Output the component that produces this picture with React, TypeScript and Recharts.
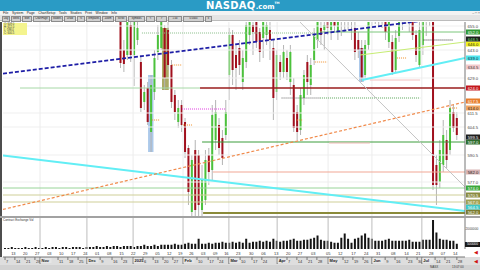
import React from "react";
import {
  ComposedChart,
  Bar,
  XAxis,
  YAxis,
  ReferenceLine,
  ReferenceArea,
} from "recharts";

// one slot per bar on the time axis; candles start at slot 34
const SLOTS = 136;
const FIRST_CANDLE = 34;

// [open, high, low, close]
const candles: number[][] = [
  [660, 663, 634, 636.5],
  [643, 648, 632, 636],
  [640.5, 662, 638, 659],
  [655.5, 658, 637, 640.5],
  [640.5, 660.5, 625, 657],
  [648, 658, 645.5, 654],
  [637, 640.5, 612, 614],
  [617, 625.5, 613, 622],
  [624, 627, 605.5, 607],
  [602, 630.5, 592, 625.5],
  [622, 643, 618, 639],
  [642, 655.5, 638, 650.5],
  [644, 660.5, 643, 657],
  [654, 655.5, 623, 629],
  [653, 657, 633, 635.5],
  [635.5, 638, 614, 617],
  [620.5, 623, 608, 612],
  [607, 618, 604, 614],
  [615.5, 618, 602, 605.5],
  [607, 609, 589, 592],
  [594, 595.5, 565.5, 572],
  [562, 590.5, 560, 588],
  [593, 598, 560, 563],
  [590.5, 593, 560, 565.5],
  [563, 585.5, 560, 578],
  [568, 593, 565.5, 588],
  [590.5, 594, 575.5, 582],
  [583, 615.5, 578, 610.5],
  [598, 618, 593, 612],
  [605.5, 609, 590.5, 594],
  [599, 603, 585.5, 589],
  [600.5, 618, 598, 612],
  [630.5, 654, 618, 650.5],
  [650.5, 653, 625.5, 633],
  [640.5, 645.5, 623, 634],
  [644, 648, 630.5, 635.5],
  [627, 643, 623, 639],
  [637, 658, 634, 655.5],
  [650.5, 659, 645.5, 657],
  [655.5, 659, 640.5, 652],
  [657, 659, 644, 647],
  [652, 654, 637, 642],
  [649, 659, 639, 657],
  [650.5, 658, 645.5, 655.5],
  [653, 657, 638, 648],
  [644, 648, 608, 619],
  [622, 643, 618, 640.5],
  [637, 640.5, 628, 632],
  [632, 645.5, 629, 642],
  [639, 643, 628, 632],
  [627, 645.5, 620.5, 642],
  [625.5, 629, 602, 604],
  [612, 615.5, 598, 602],
  [603, 624, 600.5, 620.5],
  [619, 633, 615.5, 630.5],
  [637, 640.5, 620.5, 627],
  [625.5, 639, 620.5, 635.5],
  [638, 654, 635.5, 650.5],
  [648, 659, 644, 657],
  [654, 658, 645.5, 650.5],
  [653, 659, 643, 655.5],
  [657, 659, 650.5, 654],
  [653, 659, 648, 657],
  [657, 659, 652, 655],
  [652, 659, 648, 657],
  [660, 664, 650, 658],
  [658, 663, 652, 661],
  [662, 665, 653, 659],
  [659, 663, 648, 657.5],
  [654, 657, 638, 642],
  [648, 652, 639, 643],
  [644, 648, 627, 629],
  [630.5, 648, 628, 645.5],
  [645.5, 659, 643, 657],
  [660, 665, 654, 662],
  [662, 666, 656, 664],
  [663, 667, 655, 660],
  [660, 664, 654, 662],
  [661, 664, 648, 652],
  [647, 659, 644, 657],
  [647, 650.5, 630.5, 632],
  [633, 653, 631.5, 649],
  [650, 661, 647, 658],
  [660, 664, 653, 662],
  [662, 666, 656, 664],
  [663, 666, 652, 659],
  [659, 662, 648, 650.5],
  [650.5, 653, 637, 640.5],
  [635.5, 658, 634, 653],
  [645.5, 659, 640.5, 657],
  [658, 663, 650, 661],
  [661, 665, 655, 662],
  [662, 665, 573, 575.5],
  [585.5, 590.5, 565.5, 575.5],
  [577, 598, 574, 593],
  [585.5, 608, 582, 600.5],
  [598, 603, 584, 588],
  [593, 618, 590.5, 614],
  [612, 615.5, 602, 604],
  [609, 612, 598, 600.5],
];

// volume, thousands of contracts, one per slot
const volumes: (number | null)[] = [
  100, 100, 200, 100, 100, 100, 200, 100, 100, 200,
  100, 100, 200, 100, 200, 200, 100, 200, 200, 100,
  200, 200, 200, 100, 200, 200, 200, 300, 200, 200,
  300, 200, 300, 300, 200, 300, 300, 300, 200, 300,
  300, 400, 300, 300, 400, 300, 400, 400, 400, 400,
  500, 400, 400, 500, 600, 500, 500, 1000, 500, 500,
  600, 500, 600, 600, 700, 600, 600, 700, 600, 700,
  600, 1000, 600, 700, 700, 800, 700, 800, 700, 1000,
  800, 700, 800, 800, 900, 1000, 800, 800, 900, 900,
  1000, 1100, 1300, 900, 800, 800, 700, 600, 600, 1100,
  1500, 1000, 600, 1000, 1100, 1300, 1500, 1100, 1000, 800,
  800, 800, 900, 1000, 800, 800, 800, 800, 800, 900,
  700, 700, 700, 900, 900, 900, 2800, 1600, 1000, 900,
  900, 800, 800, 500, null, null,
];

// month boundaries and labels
const monthSlots = [10.4, 24.2, 37.8, 52.5, 66, 80.2, 95.2, 108.1, 122.8];
const monthNames = ["Nov", "Dec", "2025", "Feb", "Mar", "Apr", "May", "Jun", "Jul"];

const weekSlots = [
  0.1, 3, 6, 8.9, 15.7, 18.6, 21.6, 28.1, 31.6, 34.5, 40.7, 43.7, 46.6, 49.5,
  56.6, 59.9, 62.8, 69.3, 72.8, 75.7, 83.1, 86, 89, 91.9, 99.6, 102.5, 105.5,
  112, 114.9, 118.4, 121.4, 126.7, 129.6, 133.1,
];
const weekDays = [
  "7", "14", "21", "28", "11", "18", "25", "9", "16", "23", "6", "13", "20", "27",
  "10", "17", "24", "10", "17", "24", "7", "14", "21", "28", "12", "19", "26",
  "9", "16", "23", "30", "14", "21", "28",
];

const row2Slots = [
  1.6, 5.1, 8.6, 12.2, 15.7, 19.2, 22.8, 26.3, 29.8, 33.4, 36.9, 40.4, 44, 47.5,
  50.7, 54, 57.5, 61, 64.3, 67.8, 71.6, 75.2, 79, 82.5, 86, 89.9, 94.3, 97.8,
  101.7, 105.5, 109, 113.4, 117.3, 120.8, 124.6, 128.1, 131.7,
];
const row2Days = [
  "13", "20", "27", "03", "10", "17", "24", "01", "08", "15", "22", "29", "05", "12",
  "19", "26", "03", "09", "16", "23", "30", "06", "13", "20", "27", "03", "05", "12",
  "17", "24", "31", "08", "14", "21", "28", "07", "14",
];

// price scale labels and the coloured level tags on the right axis
const priceTicks = [577, 590.5, 604.5, 611.5, 629, 643, 655];
const tagPrices = [652, 648.5, 646, 639, 634.5, 624, 617.5, 614, 599.5, 597, 582, 574, 570.5, 567, 564.5, 562];
const tagStyle: Record<number, [string, string]> = {
  652: ["#2f9a35", "#fff"],
  648.5: ["#1d1d1d", "#7fe07f"],
  646: ["#f2f21e", "#222"],
  639: ["#4fe6ee", "#123"],
  634.5: ["#f4c9cc", "#333"],
  624: ["#c4161c", "#fff"],
  617.5: ["#e77c2c", "#fff"],
  614: ["#f3a765", "#222"],
  599.5: ["#1e1e1e", "#fff"],
  597: ["#2d6c2d", "#fff"],
  582: ["#d9b5b5", "#222"],
  574: ["#3aa83a", "#fff"],
  570.5: ["#8a8a40", "#fff"],
  567: ["#a0a050", "#fff"],
  564.5: ["#3cc7c7", "#fff"],
  562: ["#7b7b30", "#fff"],
};

// short dotted orange markers: [fromSlot, toSlot, price]
const orangeMarks = [
  [49.3, 52.2, 635.5],
  [43.4, 45.7, 608],
  [52.5, 55.4, 605.5],
  [86, 87.8, 608],
  [91.3, 94.9, 637],
  [115.5, 118.4, 639],
  [131.1, 133.4, 614],
];

const rows = volumes.map((v, i) => {
  const c = candles[i - FIRST_CANDLE];
  return c
    ? { i, v, o: c[0], h: c[1], l: c[2], c: c[3], range: [c[2], c[1]] }
    : { i, v, range: null };
});

const last = candles[candles.length - 1];
const FONT = "'Liberation Sans', Arial, sans-serif";
const XDOM: [number, number] = [-0.5, SLOTS - 0.5];

const Candle = (props: any) => {
  const { x, y, width, height, payload } = props;
  if (!payload || payload.o == null) return null;
  const { o, h, l, c } = payload;
  const top = Math.min(y, y + height);
  const bot = Math.max(y, y + height);
  const span = h - l || 1;
  const py = (p: number) => top + ((h - p) / span) * (bot - top);
  const cx = x + width / 2;
  const up = c >= o;
  const bt = py(Math.max(o, c));
  const bb = py(Math.min(o, c));
  return (
    <g>
      <line x1={cx} x2={cx} y1={top} y2={bot} stroke="#b4b4b4" strokeWidth={1} />
      <rect
        x={cx - 1}
        y={bt}
        width={2}
        height={Math.max(1, bb - bt)}
        fill={up ? "#4cc23c" : "#a1101d"}
      />
    </g>
  );
};

const PriceTick = (props: any) => {
  const { x, y, payload } = props;
  const v = payload.value as number;
  const st = tagStyle[v];
  if (st) {
    return (
      <g>
        <rect x={x} y={y - 2.5} width={14} height={5} fill={st[0]} />
        <text x={x + 7} y={y + 1.6} fontSize={4.2} textAnchor="middle" fill={st[1]} fontFamily={FONT}>
          {v.toFixed(1)}
        </text>
      </g>
    );
  }
  return (
    <text x={x + 1.5} y={y + 1.6} fontSize={4.2} fill="#444" fontFamily={FONT}>
      {v.toFixed(1)}
    </text>
  );
};

const WeekTick = (props: any) => {
  const { x, y, payload } = props;
  const mi = monthSlots.indexOf(payload.value);
  if (mi >= 0) {
    return (
      <g>
        <line x1={x} x2={x} y1={y} y2={y + 7} stroke="#777" />
        <rect x={x + 0.5} y={y + 1} width={11} height={5} fill="#e6e6e6" />
        <text x={x + 1.5} y={y + 5} fontSize={4} fontWeight={700} fill="#222" fontFamily={FONT}>
          {monthNames[mi]}
        </text>
      </g>
    );
  }
  const wi = weekSlots.indexOf(payload.value);
  return (
    <g>
      <line x1={x} x2={x} y1={y} y2={y + 3} stroke="#777" />
      <text x={x + 1} y={y + 5.5} fontSize={4} fill="#333" fontFamily={FONT}>
        {weekDays[wi]}
      </text>
    </g>
  );
};

const Row2Tick = (props: any) => {
  const { x, y, payload } = props;
  const k = row2Slots.indexOf(payload.value);
  return (
    <g>
      <line x1={x - 1} x2={x - 1} y1={y + 1} y2={y + 7} stroke="#fff" />
      <text x={x + 1} y={y + 5.5} fontSize={4} fill="#333" fontFamily={FONT}>
        {row2Days[k]}
      </text>
    </g>
  );
};

const VolTick = (props: any) => {
  const { x, y, payload } = props;
  return (
    <text x={x + 0.5} y={y + 1.3} fontSize={3.3} fill="#444" fontFamily={FONT}>
      {`${payload.value}000`}
    </text>
  );
};

const menuItems = ["File", "System", "Page", "ChartSetup", "Tools", "Studies", "Print", "Window", "Info"];
const toolButtons = [
  ["Day", 6], ["Week", 8], ["Mon", 8], ["ChartPage", 15], ["Studies", 10], ["Draw", 10],
  ["%", 6], ["Templates", 13], ["Zoom", 10], ["Scroll", 10], ["Symbols", 15], ["<", 7],
  [">", 9], ["1.00", 12], ["0.0000", 19], ["x", 5],
];

const PriceChart = () => (
  <ComposedChart width={480} height={194} data={rows} margin={{ top: 0, right: 0, left: 3, bottom: 0 }}>
    <XAxis dataKey="i" type="number" domain={XDOM} hide allowDataOverflow />
    <YAxis
      orientation="right"
      width={15}
      domain={[560, 657]}
      allowDataOverflow
      ticks={[...priceTicks, ...tagPrices].sort((a, b) => a - b)}
      interval={0}
      tick={<PriceTick />}
      tickLine={false}
      tickSize={0}
      tickMargin={1}
      axisLine={{ stroke: "#777" }}
    />
    {priceTicks.map((p) => (
      <ReferenceLine key={"g" + p} y={p} stroke="#efefef" />
    ))}
    {monthSlots.map((s) => (
      <ReferenceLine key={"m" + s} x={s} stroke="#ececec" />
    ))}
    <ReferenceArea x1={42.2} x2={43.8} y1={592} y2={630.5} fill="#9ec0e6" fillOpacity={0.85} stroke="none" />
    <ReferenceArea x1={104.3} x2={105.7} y1={627} y2={644} fill="#9ec0e6" fillOpacity={0.85} stroke="none" />
    <ReferenceArea x1={46.3} x2={48.3} y1={623} y2={654} fill="#9c9c4a" fillOpacity={0.85} stroke="none" />
    <ReferenceArea x1={53.6} x2={55.4} y1={559} y2={594.5} fill="#9c9c4a" fillOpacity={0.85} stroke="none" />

    <ReferenceLine segment={[{ x: 4.5, y: 624 }, { x: 57.5, y: 624 }]} stroke="#a6d8a6" ifOverflow="hidden" />
    <ReferenceLine segment={[{ x: 57.5, y: 624 }, { x: 135.5, y: 624 }]} stroke="#9a1c1c" strokeWidth={1.4} ifOverflow="hidden" />
    <ReferenceLine segment={[{ x: 58.1, y: 597 }, { x: 135.5, y: 597 }]} stroke="#3d9d3d" ifOverflow="hidden" />
    <ReferenceLine segment={[{ x: 61.3, y: 582 }, { x: 135.5, y: 582 }]} stroke="#f1a795" ifOverflow="hidden" />
    <ReferenceLine segment={[{ x: -0.5, y: 574 }, { x: 135.5, y: 574 }]} stroke="#98d498" ifOverflow="hidden" />
    <ReferenceLine segment={[{ x: -0.5, y: 570.5 }, { x: 135.5, y: 570.5 }]} stroke="#cfcf98" ifOverflow="hidden" />
    <ReferenceLine segment={[{ x: -0.5, y: 567 }, { x: 135.5, y: 567 }]} stroke="#cfcf98" ifOverflow="hidden" />
    <ReferenceLine segment={[{ x: 58.4, y: 561.5 }, { x: 135.5, y: 561.5 }]} stroke="#8a8a3a" strokeWidth={2} ifOverflow="hidden" />
    <ReferenceLine segment={[{ x: 92.8, y: 652 }, { x: 135.5, y: 652 }]} stroke="#7cc77c" ifOverflow="hidden" />
    <ReferenceLine segment={[{ x: 40.4, y: 651.5 }, { x: 92.8, y: 651.5 }]} stroke="#8bbf8b" strokeDasharray="1 1" ifOverflow="hidden" />
    <ReferenceLine segment={[{ x: 81.5, y: 619 }, { x: 92.8, y: 619 }]} stroke="#666" strokeDasharray="1 1" ifOverflow="hidden" />
    <ReferenceLine segment={[{ x: 92.8, y: 619 }, { x: 122.3, y: 619 }]} stroke="#5aa65a" strokeDasharray="1 1" ifOverflow="hidden" />
    <ReferenceLine segment={[{ x: 123.3, y: 648 }, { x: 132.1, y: 648 }]} stroke="#333" strokeDasharray="1 1" ifOverflow="hidden" />
    <ReferenceLine segment={[{ x: 52.2, y: 613.5 }, { x: 64.9, y: 613.5 }]} stroke="#e040e0" strokeDasharray="1 1" ifOverflow="hidden" />
    <ReferenceLine segment={[{ x: 95.5, y: 596.5 }, { x: 107.5, y: 596.5 }]} stroke="#f2b8b8" ifOverflow="hidden" />
    <ReferenceLine segment={[{ x: 107.5, y: 628 }, { x: 122.3, y: 628 }]} stroke="#f2c0c0" ifOverflow="hidden" />
    {orangeMarks.map(([a, b, p]) => (
      <ReferenceLine
        key={"o" + a}
        segment={[{ x: a, y: p }, { x: b, y: p }]}
        stroke="#f0902a"
        strokeDasharray="1 1"
        ifOverflow="hidden"
      />
    ))}

    <ReferenceLine segment={[{ x: 86.9, y: 657 }, { x: 135.5, y: 574.5 }]} stroke="#c4c4c4" ifOverflow="hidden" />
    <ReferenceLine segment={[{ x: -0.5, y: 590.3 }, { x: 135.5, y: 562.5 }]} stroke="#62eef5" strokeWidth={2} ifOverflow="hidden" />
    <ReferenceLine segment={[{ x: 105.2, y: 628 }, { x: 135.5, y: 639 }]} stroke="#62eef5" strokeWidth={2} ifOverflow="hidden" />
    <ReferenceLine segment={[{ x: 104.6, y: 640.5 }, { x: 135.5, y: 647 }]} stroke="#c6ec74" strokeWidth={1.2} ifOverflow="hidden" />

    <Bar dataKey="range" barSize={2} shape={<Candle />} isAnimationActive={false} />

    <ReferenceLine segment={[{ x: -0.5, y: 563.3 }, { x: 135.5, y: 617 }]} stroke="#f08a4b" strokeWidth={1.2} strokeDasharray="3 2" ifOverflow="hidden" />
    <ReferenceLine segment={[{ x: -0.5, y: 631.2 }, { x: 135.5, y: 660.3 }]} stroke="#1e1ea6" strokeWidth={1.6} strokeDasharray="4 2" ifOverflow="hidden" />
  </ComposedChart>
);

const VolumeChart = () => (
  <ComposedChart width={480} height={48} data={rows} margin={{ top: 1, right: 0, left: 3, bottom: 0 }}>
    <XAxis
      xAxisId="w"
      dataKey="i"
      type="number"
      domain={XDOM}
      allowDataOverflow
      ticks={[...weekSlots, ...monthSlots].sort((a, b) => a - b)}
      interval={0}
      tick={<WeekTick />}
      tickLine={false}
      tickSize={0}
      tickMargin={0}
      height={8}
      axisLine={{ stroke: "#777" }}
    />
    <XAxis
      xAxisId="d"
      dataKey="i"
      type="number"
      domain={XDOM}
      allowDataOverflow
      ticks={row2Slots}
      interval={0}
      tick={<Row2Tick />}
      tickLine={false}
      tickSize={0}
      tickMargin={0}
      height={8}
      axisLine={false}
    />
    <YAxis
      orientation="right"
      width={15}
      domain={[0, 3000]}
      ticks={[2000]}
      tick={<VolTick />}
      tickLine={false}
      tickSize={0}
      tickMargin={0}
      axisLine={{ stroke: "#777" }}
    />
    {monthSlots.map((s) => (
      <ReferenceLine key={s} xAxisId="w" x={s} stroke="#bdbdbd" />
    ))}
    <Bar xAxisId="w" dataKey="v" barSize={2} fill="#141414" isAnimationActive={false} />
  </ComposedChart>
);

export default function App() {
  return (
    <div
      style={{
        position: "fixed",
        left: 0,
        top: 0,
        width: 480,
        height: 270,
        overflow: "hidden",
        background: "#fff",
        fontFamily: FONT,
      }}
    >
      {/* header */}
      <div style={{ position: "absolute", left: 0, top: 0, width: 480, height: 11, background: "#2a9bc5" }}>
        <div
          style={{
            position: "absolute",
            left: 206,
            top: 0,
            height: 11,
            display: "flex",
            alignItems: "baseline",
            color: "#fff",
            fontWeight: 700,
            fontFamily: "'DejaVu Sans', sans-serif",
            lineHeight: "11px",
          }}
        >
          <span style={{ fontSize: 10, letterSpacing: 0.3 }}>NASDAQ</span>
          <span style={{ fontSize: 7 }}>.com</span>
          <span style={{ fontSize: 3, alignSelf: "flex-start", lineHeight: "6px" }}>TM</span>
        </div>
      </div>
      {/* menu */}
      <div style={{ position: "absolute", left: 0, top: 11, width: 480, height: 4, background: "#f3f3f3", display: "flex", gap: 3.5, paddingLeft: 3, fontSize: 3.4, lineHeight: "4px", color: "#222" }}>
        {menuItems.map((m) => (
          <span key={m}>{m}</span>
        ))}
        <span style={{ position: "absolute", right: 3, color: "#555" }}>–  □  ×</span>
      </div>
      {/* toolbar */}
      <div style={{ position: "absolute", left: 0, top: 15, width: 480, height: 6, background: "#e4e4e4", borderBottom: "1px solid #bcbcbc", display: "flex", gap: 1, paddingLeft: 2, boxSizing: "border-box" }}>
        {toolButtons.map(([t, w]) => (
          <div
            key={t as string}
            style={{ width: w as number, height: 4, marginTop: 0.5, background: "#cfcfcf", border: "0.5px solid #8c8c8c", fontSize: 2.6, lineHeight: "4px", color: "#222", overflow: "hidden", textAlign: "center" }}
          >
            {t}
          </div>
        ))}
      </div>
      {/* left edge */}
      <div style={{ position: "absolute", left: 0, top: 22, width: 2, height: 243, background: "#4d4d4d" }} />
      <div style={{ position: "absolute", left: 0, top: 22 }}>
        <PriceChart />
      </div>
      {/* legend box */}
      <div style={{ position: "absolute", left: 3, top: 23, width: 24, height: 12, background: "#f4f48e", fontSize: 2.7, lineHeight: "3px", color: "#333", paddingLeft: 1, boxSizing: "border-box" }}>
        <div>O: {last[0].toFixed(1)}</div>
        <div>H: {last[1].toFixed(1)}</div>
        <div>L: {last[2].toFixed(1)}</div>
        <div>C: {last[3].toFixed(1)}</div>
      </div>
      {/* pane separator */}
      <div style={{ position: "absolute", left: 0, top: 216, width: 480, height: 2, background: "#a2a2a2" }} />
      <div style={{ position: "absolute", left: 0, top: 257, width: 480, height: 8, background: "#dedede" }} />
      <div style={{ position: "absolute", left: 0, top: 217 }}>
        <VolumeChart />
      </div>
      <div style={{ position: "absolute", left: 3, top: 218.5, fontSize: 3, color: "#333", lineHeight: "3px" }}>
        Contract Exchange Vol
      </div>
      <div style={{ position: "absolute", left: 465, top: 242, width: 15, height: 5, background: "#1a1a1a", color: "#fff", fontSize: 3.3, lineHeight: "5px", textAlign: "center" }}>
        500000
      </div>
      <div style={{ position: "absolute", left: 474, top: 250, fontSize: 5, color: "#d01010", lineHeight: "5px" }}>◀</div>
      <div style={{ position: "absolute", left: 474, top: 259, fontSize: 5, color: "#d01010", lineHeight: "5px" }}>◀</div>
      {/* status bar */}
      <div style={{ position: "absolute", left: 0, top: 265, width: 480, height: 5, background: "#d2d2d2", fontSize: 3, lineHeight: "5px", color: "#333" }}>
        <span style={{ position: "absolute", left: 430 }}>NASX</span>
        <span style={{ position: "absolute", left: 452 }}>13:07:00</span>
      </div>
    </div>
  );
}
